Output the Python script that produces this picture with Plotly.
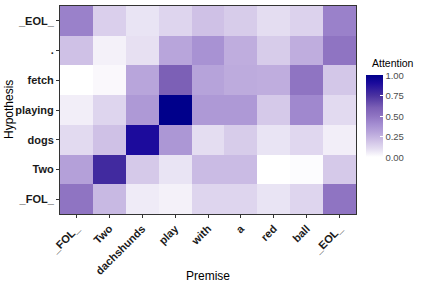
import plotly.graph_objects as go

premise = ["_FOL_", "Two", "dachshunds", "play", "with", "a", "red", "ball", "_EOL_"]
hypothesis = ["_FOL_", "Two", "dogs", "playing", "fetch", ".", "_EOL_"]

# attention rows, bottom (_FOL_) to top (_EOL_)
att_FOL = [0.50, 0.23, 0.06, 0.04, 0.13, 0.13, 0.08, 0.13, 0.50]
att_Two = [0.32, 0.78, 0.17, 0.08, 0.22, 0.22, 0.00, 0.01, 0.17]
att_dogs = [0.11, 0.20, 0.90, 0.36, 0.10, 0.16, 0.08, 0.12, 0.05]
att_playing = [0.05, 0.13, 0.35, 1.00, 0.35, 0.35, 0.17, 0.42, 0.11]
att_fetch = [0.00, 0.02, 0.30, 0.60, 0.31, 0.28, 0.27, 0.50, 0.18]
att_dot = [0.20, 0.04, 0.09, 0.30, 0.38, 0.27, 0.16, 0.27, 0.50]
att_EOL = [0.45, 0.15, 0.08, 0.13, 0.20, 0.16, 0.10, 0.14, 0.45]

z = [att_FOL, att_Two, att_dogs, att_playing, att_fetch, att_dot, att_EOL]

colorscale = [
    [0.0, "#FFFFFF"], [0.1, "#E4DDF1"], [0.2, "#CFC1E6"], [0.3, "#B8A5DB"],
    [0.4, "#A48DD1"], [0.5, "#8F74C2"], [0.6, "#7C60B6"], [0.75, "#4A32A0"],
    [0.9, "#1C0B9C"], [1.0, "#00008B"],
]

font_family = "Liberation Sans, Arial, sans-serif"

L, R, T, B = 60, 71, 6, 71
W, H = 427, 285
pw, ph = W - L - R, H - T - B

fig = go.Figure(go.Heatmap(
    x=premise, y=hypothesis, z=z,
    colorscale=colorscale, zmin=0, zmax=1,
    colorbar=dict(
        tickvals=[0, 0.25, 0.5, 0.75, 1.0],
        ticktext=["0.00", "0.25", "0.50", "0.75", "1.00"],
        tickfont=dict(size=9.5, color="#4d4d4d", family=font_family),
        ticks="inside", tickcolor="white", ticklen=3,
        thickness=17, thicknessmode="pixels",
        len=82, lenmode="pixels",
        x=(366 - L) / pw, xanchor="left", xpad=0,
        y=(H - B - 116.4) / ph, yanchor="middle", ypad=0,
        outlinewidth=0,
    ),
))

fig.add_annotation(
    text="Attention", xref="paper", yref="paper",
    x=(370 - L) / pw, y=(H - B - 63) / ph, xanchor="left", yanchor="middle",
    showarrow=False, font=dict(size=10.5, color="#000000", family=font_family),
)
fig.add_annotation(
    text="Premise", xref="paper", yref="paper",
    x=0.5, y=(H - B - 275.5) / ph, xanchor="center", yanchor="middle",
    showarrow=False, font=dict(size=12, color="#000000", family=font_family),
)
fig.add_annotation(
    text="Hypothesis", xref="paper", yref="paper", textangle=-90,
    x=(9 - L) / pw, y=0.5, xanchor="center", yanchor="middle",
    showarrow=False, font=dict(size=12, color="#000000", family=font_family),
)

fig.update_layout(
    width=W, height=H,
    margin=dict(l=L, r=R, t=T, b=B),
    paper_bgcolor="white", plot_bgcolor="white",
    font=dict(family=font_family),
)
fig.update_xaxes(
    tickangle=-45, tickfont=dict(size=11, color="#1a1a1a", weight="bold"),
    ticks="outside", ticklen=3, tickcolor="#333333",
    showline=True, mirror=True, linecolor="#333333", linewidth=1,
    showgrid=False,
)
fig.update_yaxes(
    tickfont=dict(size=11, color="#1a1a1a", weight="bold"),
    ticks="outside", ticklen=3, tickcolor="#333333",
    showline=True, mirror=True, linecolor="#333333", linewidth=1,
    showgrid=False,
)

fig.write_html("out.html", config={"displayModeBar": False},
               post_script="document.body.style.margin='0';")
